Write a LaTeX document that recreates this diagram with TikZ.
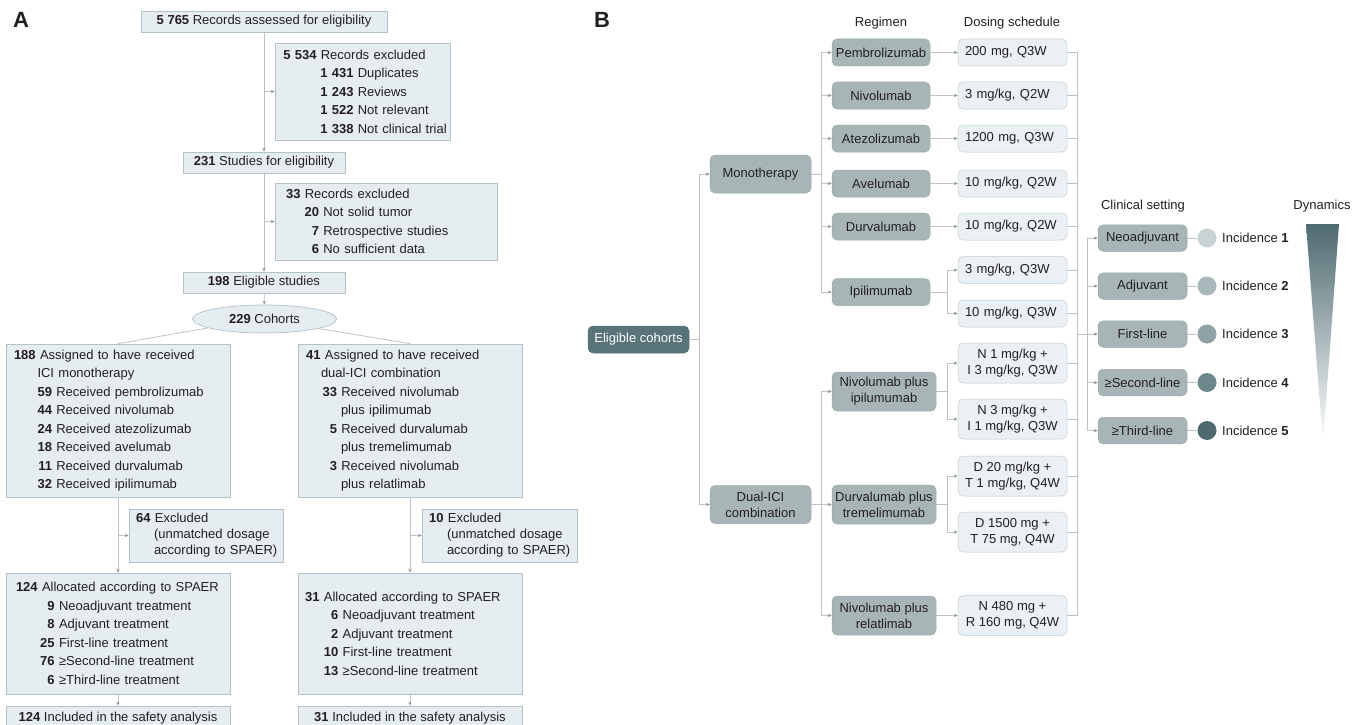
\documentclass[tikz,border=0pt]{standalone}
\usepackage{fontspec}
\setmainfont{Liberation Sans}
\usetikzlibrary{arrows.meta,shapes.geometric}

\definecolor{ink}{HTML}{231F20}
\definecolor{flowfill}{HTML}{E6EDF1}
\definecolor{flowedge}{HTML}{B3C1C9}
\definecolor{wiregray}{HTML}{BEC3C5}
\definecolor{wiretip}{HTML}{8C9294}
\definecolor{regfill}{HTML}{A8B5B7}
\definecolor{regedge}{HTML}{9AA8AA}
\definecolor{cohortfill}{HTML}{587479}
\definecolor{dosefill}{HTML}{EAF0F3}
\definecolor{doseedge}{HTML}{C2CCD1}
\definecolor{inc1}{HTML}{C9D3D5}
\definecolor{inc2}{HTML}{A9B8BB}
\definecolor{inc3}{HTML}{8FA2A6}
\definecolor{inc4}{HTML}{6E878C}
\definecolor{inc5}{HTML}{4E6A70}

% right-aligned bold count in a column of given width
\newcommand{\nrc}[2]{\makebox[#1][r]{\textbf{#2}}}

\begin{document}
\begin{tikzpicture}[x=1pt,y=-1pt,
  font=\fontsize{13}{18.5}\selectfont, text=ink,
  flowbox/.style={draw=flowedge, fill=flowfill, line width=0.7pt, inner xsep=2pt, inner ysep=2pt, align=left},
  flowline/.style={flowbox, align=center, minimum height=21pt},
  wire/.style={draw=wiregray, line width=0.8pt},
  wirearrow/.style={wire, -{Stealth[length=4pt,width=3.2pt,color=wiretip]}},
  regbox/.style={draw=regedge, fill=regfill, rounded corners=5pt, line width=0.5pt, align=center, inner sep=1pt, font=\fontsize{13}{16}\selectfont},
  dosebox/.style={regbox, draw=doseedge, fill=dosefill, minimum width=109pt},
  paneltag/.style={font=\fontsize{22}{22}\selectfont\bfseries}]
\useasboundingbox (0,0) rectangle (1363,725);

% Panel labels
\node[paneltag] (tagA) at (21,20) {A};
\node[paneltag] (tagB) at (602,20) {B};

% ---------- Panel A: selection flow ----------
\node[flowline, minimum width=246pt] (assessed) at (264,21.5) {\textbf{5 765} Records assessed for eligibility};
\node[flowbox, text width=171pt, minimum height=97pt] (excl1) at (362.5,91.5)
  {\nrc{39.5pt}{5 534} Records excluded\\
   \nrc{76.5pt}{1 431} Duplicates\\
   \nrc{76.5pt}{1 243} Reviews\\
   \nrc{76.5pt}{1 522} Not relevant\\
   \nrc{76.5pt}{1 338} Not clinical trial};
\node[flowline, minimum width=162pt] (studies) at (264,162.5) {\textbf{231} Studies for eligibility};
\node[flowbox, text width=218pt, minimum height=77pt] (excl2) at (386,221.5)
  {\nrc{23.5pt}{33} Records excluded\\
   \nrc{42pt}{20} Not solid tumor\\
   \nrc{42pt}{7} Retrospective studies\\
   \nrc{42pt}{6} No sufficient data};
\node[flowline, minimum width=162pt] (eligible) at (264,282.5) {\textbf{198} Eligible studies};
\node[ellipse, draw=flowedge, fill=flowfill, line width=0.7pt, minimum width=144pt, minimum height=28pt, inner sep=0pt] (cohorts) at (264.5,319) {\textbf{229} Cohorts};

% the two arms
\node[flowbox, text width=220pt, minimum height=153pt] (mono) at (118,420.5)
  {\nrc{27.7pt}{188} Assigned to have received\\
   \hspace*{29.5pt}ICI monotherapy\\
   \nrc{44pt}{59} Received pembrolizumab\\
   \nrc{44pt}{44} Received nivolumab\\
   \nrc{44pt}{24} Received atezolizumab\\
   \nrc{44pt}{18} Received avelumab\\
   \nrc{44pt}{11} Received durvalumab\\
   \nrc{44pt}{32} Received ipilimumab};
\node[flowbox, text width=220pt, minimum height=153pt] (dual) at (410,420.5)
  {\nrc{20.5pt}{41} Assigned to have received\\
   \hspace*{21pt}dual-ICI combination\\
   \nrc{37pt}{33} Received nivolumab\\
   \hspace*{41pt}plus ipilimumab\\
   \nrc{37pt}{5} Received durvalumab\\
   \hspace*{41pt}plus tremelimumab\\
   \nrc{37pt}{3} Received nivolumab\\
   \hspace*{41pt}plus relatlimab};
\node[flowbox, text width=150pt, minimum height=53pt, font=\fontsize{13}{16}\selectfont] (excl3) at (206,535.5)
  {\nrc{19.5pt}{64} Excluded\\
   \hspace*{23pt}(unmatched dosage\\
   \hspace*{23pt}according to SPAER)};
\node[flowbox, text width=151pt, minimum height=53pt, font=\fontsize{13}{16}\selectfont] (excl4) at (499.5,535.5)
  {\nrc{19.5pt}{10} Excluded\\
   \hspace*{23pt}(unmatched dosage\\
   \hspace*{23pt}according to SPAER)};
\node[flowbox, text width=220pt, minimum height=121pt] (alloc1) at (118,633.5)
  {\nrc{29.7pt}{124} Allocated according to SPAER\\
   \nrc{46.7pt}{9} Neoadjuvant treatment\\
   \nrc{46.7pt}{8} Adjuvant treatment\\
   \nrc{46.7pt}{25} First-line treatment\\
   \nrc{46.7pt}{76} ≥Second-line treatment\\
   \nrc{46.7pt}{6} ≥Third-line treatment};
\node[flowbox, text width=220pt, minimum height=121pt] (alloc2) at (410,633.5)
  {\nrc{19.5pt}{31} Allocated according to SPAER\\
   \nrc{38.3pt}{6} Neoadjuvant treatment\\
   \nrc{38.3pt}{2} Adjuvant treatment\\
   \nrc{38.3pt}{10} First-line treatment\\
   \nrc{38.3pt}{13} ≥Second-line treatment};
\node[flowline, minimum width=224pt, minimum height=24pt] (incl1) at (118,718) {\textbf{124} Included in the safety analysis};
\node[flowline, minimum width=224pt, minimum height=24pt] (incl2) at (410,718) {\textbf{31} Included in the safety analysis};

% Panel A connectors
\draw[wirearrow] (assessed) -- (studies);
\draw[wirearrow] (assessed.south |- excl1.west) -- (excl1.west);
\draw[wirearrow] (studies) -- (eligible);
\draw[wirearrow] (studies.south |- excl2.west) -- (excl2.west);
\draw[wirearrow] (eligible) -- (cohorts);
\draw[wire] (cohorts.189) -- (mono.north);
\draw[wire] (cohorts.350) -- (dual.north);
\draw[wirearrow] (mono) -- (alloc1);
\draw[wirearrow] (mono.south |- excl3.west) -- (excl3.west);
\draw[wirearrow] (dual) -- (alloc2);
\draw[wirearrow] (dual.south |- excl4.west) -- (excl4.west);
\draw[wirearrow] (alloc1) -- (incl1);
\draw[wirearrow] (alloc2) -- (incl2);

% ---------- Panel B: regimen tree ----------
\node (hdregimen) at (881,23) {Regimen};
\node (hddose) at (1012,23) {Dosing schedule};
\node (hdclinic) at (1143,206) {Clinical setting};
\node (hddyn) at (1322,206) {Dynamics};

\node[regbox, fill=cohortfill, draw=cohortfill, text=white, minimum width=101pt, minimum height=27pt] (cohortsB) at (638.5,339.5) {Eligible cohorts};
\node[regbox, minimum width=101pt, minimum height=38pt] (monoB) at (760.5,174) {Monotherapy};
\node[regbox, minimum width=101pt, minimum height=38pt] (dualB) at (760.5,504.5) {Dual-ICI\\combination};

% regimens
\foreach \name/\y/\txt in {pembro/52.5/Pembrolizumab, nivo/95.5/Nivolumab, atezo/138.5/Atezolizumab,
  avel/183.5/Avelumab, durva/226.5/Durvalumab, ipi/292/Ipilimumab}
  \node[regbox, minimum width=98pt, minimum height=27pt] (\name) at (881,\y) {\txt};
\node[regbox, minimum width=104pt, minimum height=39pt] (nivoipi) at (884,391.5) {Nivolumab plus\\ipilumumab};
\node[regbox, minimum width=104pt, minimum height=39pt] (durvatreme) at (884,504.5) {Durvalumab plus\\tremelimumab};
\node[regbox, minimum width=104pt, minimum height=39pt] (nivorela) at (884,615.5) {Nivolumab plus\\relatlimab};

% dosing schedules
\node[dosebox, minimum height=27pt, text width=95pt, inner xsep=7pt, align=left] (dpembro) at (1012.5,52.5) {200 mg, Q3W};
\node[dosebox, minimum height=27pt, text width=95pt, inner xsep=7pt, align=left] (dnivo) at (1012.5,95.5) {3 mg/kg, Q2W};
\node[dosebox, minimum height=27pt, text width=95pt, inner xsep=7pt, align=left] (datezo) at (1012.5,138.5) {1200 mg, Q3W};
\node[dosebox, minimum height=27pt, text width=95pt, inner xsep=7pt, align=left] (davel) at (1012.5,183.5) {10 mg/kg, Q2W};
\node[dosebox, minimum height=27pt, text width=95pt, inner xsep=7pt, align=left] (ddurva) at (1012.5,226.5) {10 mg/kg, Q2W};
\node[dosebox, minimum height=27pt, text width=95pt, inner xsep=7pt, align=left] (dipia) at (1012.5,270) {3 mg/kg, Q3W};
\node[dosebox, minimum height=27pt, text width=95pt, inner xsep=7pt, align=left] (dipib) at (1012.5,313.5) {10 mg/kg, Q3W};
\node[dosebox, minimum height=40pt] (dni1) at (1012.5,363) {N 1 mg/kg +\\I 3 mg/kg, Q3W};
\node[dosebox, minimum height=40pt] (dni2) at (1012.5,419) {N 3 mg/kg +\\I 1 mg/kg, Q3W};
\node[dosebox, minimum height=40pt] (ddt1) at (1012.5,476) {D 20 mg/kg +\\T 1 mg/kg, Q4W};
\node[dosebox, minimum height=40pt] (ddt2) at (1012.5,532) {D 1500 mg +\\T 75 mg, Q4W};
\node[dosebox, minimum height=40pt] (dnr) at (1012.5,615.5) {N 480 mg +\\R 160 mg, Q4W};

% clinical settings and incidence dots
\foreach \name/\y/\txt in {neo/238/Neoadjuvant, adj/286/Adjuvant, first/334/First-line,
  second/382.5/≥Second-line, third/430.5/≥Third-line}
  \node[regbox, minimum width=89pt, minimum height=26.5pt] (\name) at (1142.5,\y) {\txt};
\foreach \i/\y in {1/238, 2/286, 3/334, 4/382.5, 5/430.5} {
  \node[circle, fill=inc\i, minimum size=19pt, inner sep=0pt] (dot\i) at (1207,\y) {};
  \node[anchor=west, inner sep=0pt] (inclab\i) at (1222,\y) {Incidence \textbf{\i}};
}

% dynamics wedge
\shade[top color=inc5, bottom color=white] (1306,224) -- (1339,224) -- (1323,443) -- cycle;

% Panel B connectors
\coordinate (rootbus) at (699,339.5);
\draw[wire] (cohortsB) -- (rootbus);
\draw[wirearrow] (rootbus) |- (monoB.west);
\draw[wirearrow] (rootbus) |- (dualB.west);

\coordinate (monobus) at (821,174);
\draw[wire] (monoB.east) -- (monobus);
\foreach \r in {pembro,nivo,atezo,avel,durva,ipi}
  \draw[wirearrow] (monobus) |- (\r.west);
\coordinate (dualbus) at (821,504.5);
\draw[wire] (dualB.east) -- (dualbus);
\foreach \r in {nivoipi,durvatreme,nivorela}
  \draw[wirearrow] (dualbus) |- (\r.west);

\foreach \r in {pembro,nivo,atezo,avel,durva}
  \draw[wirearrow] (\r) -- (d\r);
\draw[wirearrow] (nivorela) -- (dnr);
\coordinate (ipisplit) at (947,292);
\draw[wire] (ipi.east) -- (ipisplit);
\draw[wirearrow] (ipisplit) |- (dipia.west);
\draw[wirearrow] (ipisplit) |- (dipib.west);
\coordinate (nisplit) at (947,391.5);
\draw[wire] (nivoipi.east) -- (nisplit);
\draw[wirearrow] (nisplit) |- (dni1.west);
\draw[wirearrow] (nisplit) |- (dni2.west);
\coordinate (dtsplit) at (947,504.5);
\draw[wire] (durvatreme.east) -- (dtsplit);
\draw[wirearrow] (dtsplit) |- (ddt1.west);
\draw[wirearrow] (dtsplit) |- (ddt2.west);

% dosing schedules collect on one bus
\coordinate (dosebus) at (1077,334);
\draw[wire] (dpembro.east -| dosebus) -- (dnr.east -| dosebus);
\foreach \d in {dpembro,dnivo,datezo,davel,ddurva,dipia,dipib,dni1,dni2,ddt1,ddt2,dnr}
  \draw[wire] (\d.east) -- (\d.east -| dosebus);
\draw[wirearrow] (dosebus) -- (first.west);
\coordinate (setbus) at (1087,334);
\draw[wire] (setbus |- neo.west) -- (setbus |- third.west);
\foreach \c in {neo,adj,second,third}
  \draw[wirearrow] (setbus |- \c.west) -- (\c.west);
\foreach \c/\i in {neo/1,adj/2,first/3,second/4,third/5}
  \draw[wire] (\c) -- (dot\i);
\end{tikzpicture}
\end{document}
